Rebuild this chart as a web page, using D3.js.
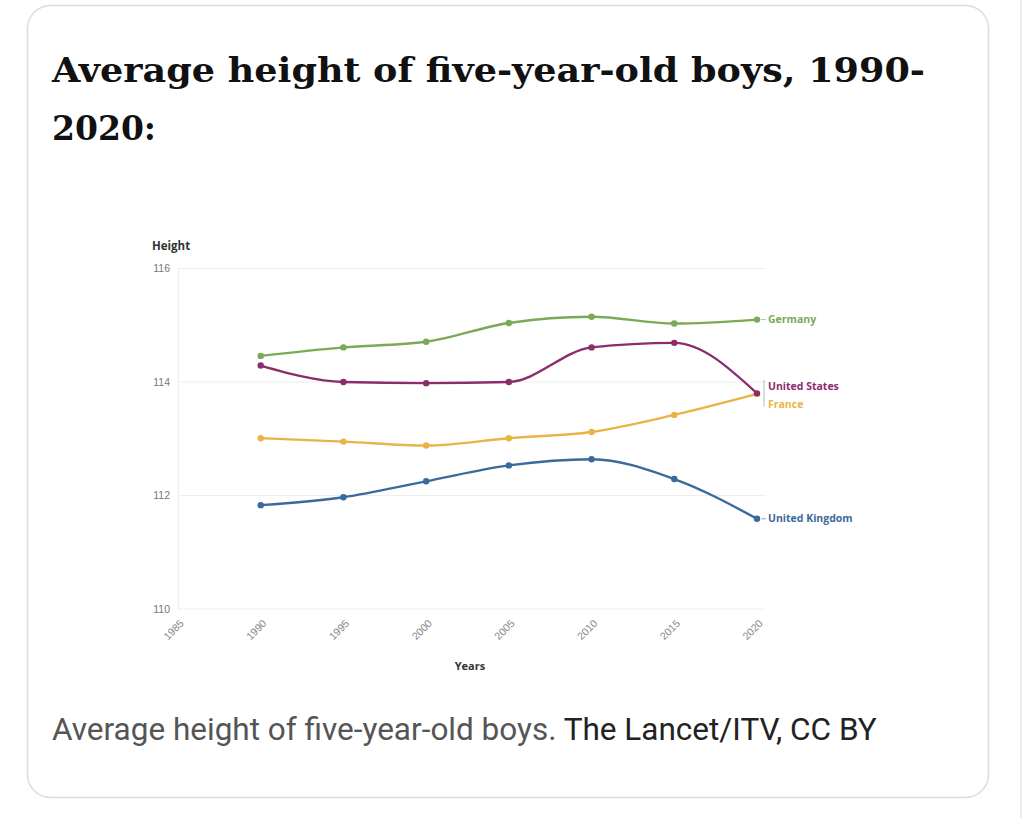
<!DOCTYPE html>
<html>
<head>
<meta charset="utf-8">
<script src="https://cdn.jsdelivr.net/npm/d3@7"></script>
<style>
  body { margin: 0; background: #fff; }
  svg { display: block; }
</style>
</head>
<body>
<svg id="chart"></svg>
<script>
// Data
var years = [1990, 1995, 2000, 2005, 2010, 2015, 2020];
var xTicks = [1985, 1990, 1995, 2000, 2005, 2010, 2015, 2020];
var yTicks = [110, 112, 114, 116];
var germany = [114.46, 114.61, 114.71, 115.04, 115.15, 115.03, 115.1];
var unitedStates = [114.29, 114.0, 113.98, 114.0, 114.61, 114.69, 113.8];
var france = [113.01, 112.95, 112.88, 113.01, 113.12, 113.42, 113.79];
var unitedKingdom = [111.83, 111.97, 112.25, 112.53, 112.64, 112.29, 111.59];

var seriesNames = ["Germany", "United States", "France", "United Kingdom"];
var seriesValues = [germany, unitedStates, france, unitedKingdom];
var seriesColors = ["#7aaa55", "#8b2d6d", "#e8b545", "#3a6a99"];

var W = 1024, H = 818;
var svg = d3.select("#chart").attr("width", W).attr("height", H);

// card frame
svg.append("rect")
  .attr("x", 27.5).attr("y", 5.5)
  .attr("width", 961).attr("height", 792)
  .attr("rx", 23).attr("ry", 23)
  .attr("fill", "#fff")
  .attr("stroke", "#dcdcdf").attr("stroke-width", 1.5);
svg.append("line")
  .attr("x1", 1021).attr("x2", 1021).attr("y1", 0).attr("y2", H)
  .attr("stroke", "#eeeef0").attr("stroke-width", 2);

// title
var title = svg.append("text")
  .style("font-family", "'DejaVu Serif', serif")
  .style("font-weight", "bold")
  .style("font-size", "33px")
  .attr("fill", "#111");
title.append("tspan").attr("x", 52).attr("y", 82).text("Average height of five-year-old boys, 1990-")
  .attr("textLength", 873).attr("lengthAdjust", "spacingAndGlyphs");
title.append("tspan").attr("x", 52).attr("y", 140).text("2020:");

// caption
var cap = svg.append("text")
  .attr("x", 52).attr("y", 740)
  .style("font-family", "Roboto, sans-serif")
  .style("font-size", "31.5px");
cap.append("tspan").attr("fill", "#555").text("Average height of five-year-old boys. ");
cap.append("tspan").attr("fill", "#222").text("The Lancet/ITV, CC BY");

// scales
var x = d3.scaleLinear().domain([1985, 2020]).range([178, 757]);
var y = d3.scaleLinear().domain([110, 116]).range([609, 268.5]);

var g = svg.append("g").style("font-family", "'Open Sans', sans-serif");

// gridlines
g.append("g")
  .selectAll("line")
  .data(yTicks)
  .enter()
  .append("line")
  .attr("x1", 178).attr("x2", 766)
  .attr("y1", function (d) { return y(d); })
  .attr("y2", function (d) { return y(d); })
  .attr("stroke", "#eeeeee").attr("stroke-width", 1);

// y axis
var yAxis = g.append("g")
  .attr("transform", "translate(178,0)")
  .call(d3.axisLeft(y).tickValues(yTicks).tickFormat(d3.format("d")).tickSize(0).tickPadding(8));
yAxis.select(".domain").attr("stroke", "#eeeeee");
yAxis.selectAll("text").attr("fill", "#777").style("font-size", "10.5px");

// x axis
var xAxis = g.append("g")
  .attr("transform", "translate(0,609)")
  .call(d3.axisBottom(x).tickValues(xTicks).tickFormat(d3.format("d")).tickSize(0));
xAxis.select(".domain").remove();
xAxis.selectAll("text")
  .attr("fill", "#888").style("font-size", "10.5px")
  .attr("text-anchor", "end")
  .attr("y", 0).attr("dy", 0)
  .attr("transform", "translate(6,15) rotate(-45)");

// axis titles
g.append("text").attr("x", 152).attr("y", 250).text("Height")
  .attr("fill", "#333").style("font-size", "11.5px").style("font-weight", "bold");
g.append("text").attr("x", 470).attr("y", 670).text("Years")
  .attr("text-anchor", "middle")
  .attr("fill", "#333").style("font-size", "11px").style("font-weight", "bold");

// lines and points
var line = d3.line()
  .x(function (d, i) { return x(years[i]); })
  .y(function (d) { return y(d); })
  .curve(d3.curveMonotoneX);

// draw in back-to-front order so US sits on top of France at 2020
var drawOrder = [3, 2, 0, 1];
drawOrder.forEach(function (k) {
  var vals = seriesValues[k];
  g.append("path")
    .datum(vals)
    .attr("d", line)
    .attr("fill", "none")
    .attr("stroke", seriesColors[k])
    .attr("stroke-width", 2.4);
  g.append("g")
    .selectAll("circle")
    .data(vals)
    .enter()
    .append("circle")
    .attr("cx", function (d, i) { return x(years[i]); })
    .attr("cy", function (d) { return y(d); })
    .attr("r", 3.2)
    .attr("fill", seriesColors[k]);
});

// end labels
var labelY = [germany[6], unitedStates[6] + 0.13, france[6] - 0.19, unitedKingdom[6]];
var lx = x(2020) + 11;
seriesNames.forEach(function (name, k) {
  g.append("text")
    .attr("x", lx).attr("y", y(labelY[k]))
    .attr("dy", "0.35em")
    .text(name)
    .attr("fill", seriesColors[k])
    .style("font-size", "10.5px").style("font-weight", "bold");
});
// short connectors for single labels
[0, 3].forEach(function (k) {
  var v = seriesValues[k][6];
  g.append("line")
    .attr("x1", x(2020) + 4).attr("x2", x(2020) + 9)
    .attr("y1", y(v)).attr("y2", y(v))
    .attr("stroke", seriesColors[k]).attr("stroke-width", 1).attr("opacity", 0.6);
});
// bracket for the US/France pair
g.append("line")
  .attr("x1", x(2020) + 7).attr("x2", x(2020) + 7)
  .attr("y1", y(labelY[1]) - 6).attr("y2", y(labelY[2]) + 2)
  .attr("stroke", "#bbb").attr("stroke-width", 1);
</script>
</body>
</html>
